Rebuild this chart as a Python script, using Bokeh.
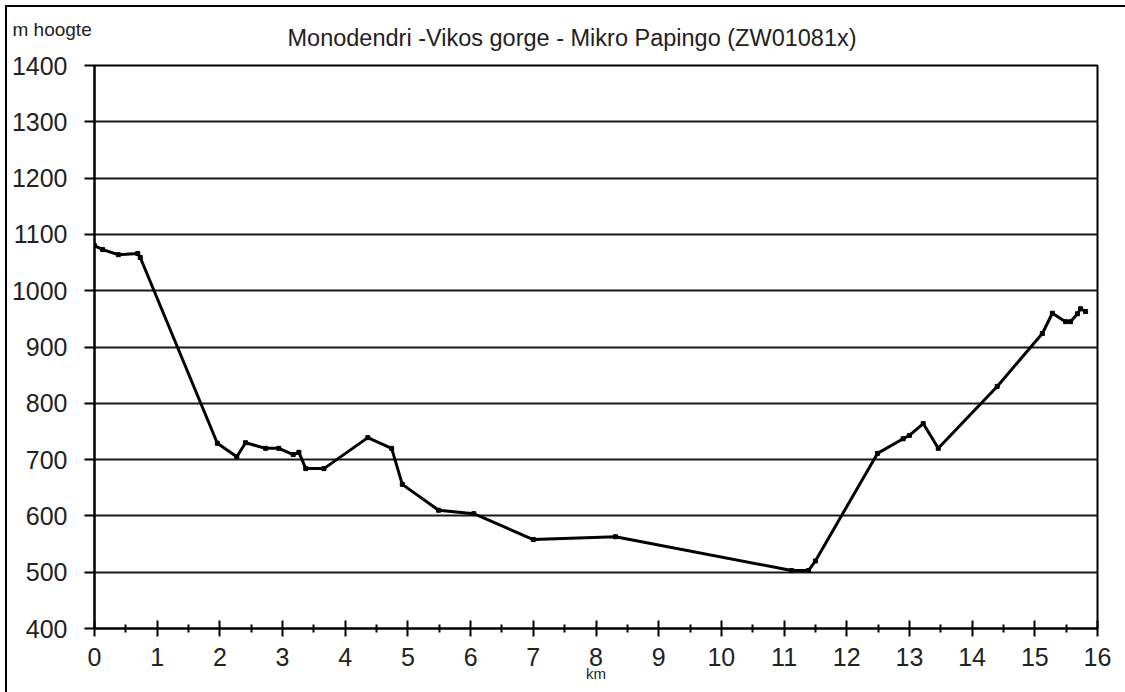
from bokeh.plotting import figure
from bokeh.models import Range1d, Title, FixedTicker, ColumnDataSource
from bokeh.embed import file_html
from bokeh.resources import INLINE

# distance (km) and altitude (m)
km = [0.0, 0.13, 0.38, 0.69, 0.73, 1.96, 2.27, 2.41, 2.73, 2.94, 3.17, 3.26,
      3.37, 3.66, 4.36, 4.74, 4.91, 5.49, 6.05, 7.0, 8.31, 11.12, 11.39, 11.5,
      12.49, 12.9, 13.0, 13.22, 13.46, 14.4, 15.12, 15.28, 15.49, 15.57,
      15.68, 15.73, 15.81]
hoogte = [1080, 1073, 1064, 1066, 1059, 729, 705, 730, 720, 720, 709, 713,
          684, 684, 739, 720, 656, 610, 604, 558, 563, 503, 503, 520,
          711, 737, 743, 764, 720, 830, 924, 960, 945, 945,
          959, 968, 963]

x_ticks = list(range(0, 17))
y_ticks = list(range(400, 1401, 100))

title_text = "Monodendri -Vikos gorge - Mikro Papingo (ZW01081x)"
y_label_text = "m hoogte"
x_label_text = "km"

FONT = "Liberation Sans"
TXT = "#222222"

p = figure(width=1125, height=692, output_backend="svg", toolbar_location=None,
           x_range=Range1d(0, 16), y_range=Range1d(400, 1400),
           min_border_left=94, min_border_top=65, min_border_right=28,
           min_border_bottom=64,
           styles={"box-shadow": "inset 5px 5px 0 0 white, inset 7px 7px 0 0 black",
                   "background-color": "white"})
p.background_fill_color = "white"
p.border_fill_color = None
p.outline_line_color = "black"
p.outline_line_width = 2

p.xgrid.grid_line_color = None
p.ygrid.grid_line_color = "black"
p.ygrid.grid_line_width = 2
p.ygrid.grid_line_alpha = 0.9

# x axis
p.xaxis.ticker = FixedTicker(ticks=x_ticks, minor_ticks=[i + 0.5 for i in range(16)])
p.xaxis.axis_line_width = 2
p.xaxis.axis_line_color = "black"
p.xaxis.major_tick_in = 8
p.xaxis.major_tick_out = 8
p.xaxis.major_tick_line_width = 2
p.xaxis.minor_tick_in = 4
p.xaxis.minor_tick_out = 4
p.xaxis.minor_tick_line_width = 2
p.xaxis.major_label_text_font = FONT
p.xaxis.major_label_text_font_size = "25px"
p.xaxis.major_label_text_color = TXT
p.xaxis.major_label_standoff = 11
p.xaxis.axis_label = x_label_text
p.xaxis.axis_label_text_font = FONT
p.xaxis.axis_label_text_font_size = "15px"
p.xaxis.axis_label_text_font_style = "normal"
p.xaxis.axis_label_text_color = TXT
p.xaxis.axis_label_standoff = -4

# y axis
p.yaxis.ticker = FixedTicker(ticks=y_ticks, minor_ticks=[])
p.yaxis.axis_line_width = 2
p.yaxis.axis_line_color = "black"
p.yaxis.major_tick_in = 0
p.yaxis.major_tick_out = 10
p.yaxis.major_tick_line_width = 2
p.yaxis.minor_tick_line_color = None
p.yaxis.major_label_text_font = FONT
p.yaxis.major_label_text_font_size = "25px"
p.yaxis.major_label_text_color = TXT
p.yaxis.major_label_standoff = 17

src = ColumnDataSource(dict(km=km, hoogte=hoogte))
p.line("km", "hoogte", source=src, line_color="black", line_width=3)
p.scatter("km", "hoogte", source=src, marker="square", size=4, color="black")

# vertical-axis caption (outermost) and chart title (next to the frame)
p.title.text = y_label_text
p.title.align = "left"
p.title.offset = -82
p.title.text_font = FONT
p.title.text_font_size = "19px"
p.title.text_font_style = "normal"
p.title.text_color = TXT
p.title.standoff = -64

p.add_layout(Title(text=title_text, align="left", offset=193, text_font=FONT,
                   text_font_size="23.5px", text_font_style="normal",
                   text_color=TXT, standoff=30), "above")

open("out.html", "w").write(file_html(p, INLINE))
